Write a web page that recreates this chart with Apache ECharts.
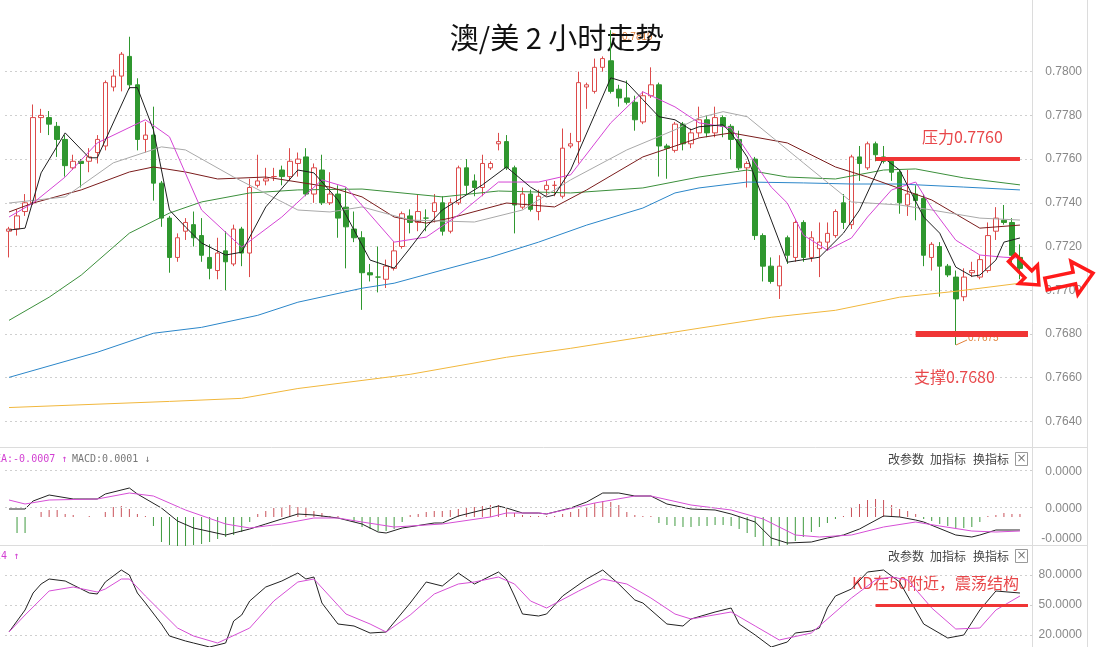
<!DOCTYPE html>
<html><head><meta charset="utf-8">
<script src="https://cdn.jsdelivr.net/npm/echarts@6/dist/echarts.min.js"></script>
<style>html,body{margin:0;padding:0;background:#fff}#c{width:1098px;height:647px}</style>
</head><body><div id="c"></div>
<script>
// ---- candles: [open, close, low, high] ----
const candles = [
[.7727,.7728,.7715,.7729],[.7728,.7734,.7725,.7737],[.7736,.7740,.7734,.7744],[.7740,.7779,.7739,.7785],[.7779,.7780,.7772,.7783],
[.7779,.7776,.7771,.7782],[.7775,.7769,.7761,.7777],[.7769,.7757,.7752,.7771],[.7756,.7759,.7755,.7762],[.7759,.7758,.7747,.7760],
[.7759,.7761,.7754,.7765],[.7763,.7769,.7758,.7771],[.7766,.7795,.7764,.7796],[.7793,.7798,.7791,.7801],[.7798,.7808,.7791,.7809],
[.7807,.7794,.7792,.7816],[.7794,.7769,.7764,.7797],[.7769,.7771,.7763,.7777],[.7771,.7749,.7741,.7784],[.7749,.7733,.7729,.7750],
[.7733,.7715,.7708,.7734],[.7715,.7724,.7713,.7726],[.7727,.7731,.7723,.7733],[.7730,.7724,.7720,.7736],[.7725,.7716,.7713,.7733],
[.7715,.7710,.7705,.7721],[.7709,.7717,.7705,.7724],[.7718,.7713,.7700,.7727],[.7712,.7728,.7711,.7730],[.7728,.7717,.7711,.7729],
[.7717,.7747,.7706,.7751],[.7748,.7750,.7747,.7762],[.7750,.7751,.7748,.7756],[.7752,.7752,.7750,.7756],[.7755,.7752,.7748,.7757],
[.7752,.7759,.7750,.7765],[.7758,.7760,.7752,.7763],[.7761,.7744,.7743,.7765],[.7744,.7756,.7740,.7758],[.7755,.7740,.7739,.7762],
[.7740,.7744,.7739,.7754],[.7744,.7733,.7724,.7748],[.7738,.7729,.7710,.7747],[.7728,.7724,.7722,.7736],[.7724,.7708,.7691,.7727],
[.7708,.7707,.7704,.7712],[.7706,.7706,.7699,.7720],[.7705,.7711,.7701,.7714],[.7710,.7718,.7709,.7722],[.7720,.7735,.7719,.7736],
[.7734,.7731,.7726,.7737],[.7731,.7736,.7727,.7744],[.7733,.7733,.7727,.7737],[.7736,.7740,.7731,.7744],[.7740,.7727,.7725,.7743],
[.7727,.7740,.7726,.7742],[.7740,.7756,.7739,.7757],[.7756,.7748,.7744,.7760],[.7750,.7747,.7743,.7753],[.7747,.7758,.7743,.7762],
[.7756,.7758,.7755,.7759],[.7767,.7768,.7764,.7772],[.7768,.7756,.7755,.7771],[.7756,.7739,.7726,.7757],[.7738,.7744,.7737,.7747],
[.7744,.7737,.7736,.7746],[.7736,.7743,.7732,.7746],[.7746,.7748,.7743,.7750],[.7748,.7748,.7743,.7750],[.7743,.7765,.7742,.7774],
[.7766,.7767,.7765,.7772],[.7768,.7795,.7758,.7800],[.7793,.7794,.7783,.7795],[.7791,.7802,.7790,.7806],[.7802,.7806,.7800,.7807],
[.7805,.7791,.7790,.7819],[.7792,.7788,.7784,.7794],[.7788,.7786,.7785,.7796],[.7786,.7778,.7773,.7789],[.7777,.7789,.7776,.7791],
[.7789,.7794,.7788,.7802],[.7794,.7766,.7752,.7795],[.7766,.7765,.7751,.7767],[.7764,.7776,.7763,.7777],[.7776,.7767,.7764,.7777],
[.7767,.7772,.7765,.7774],[.7772,.7778,.7770,.7784],[.7778,.7772,.7770,.7780],[.7772,.7779,.7770,.7784],[.7779,.7775,.7770,.7780],
[.7775,.7769,.7760,.7776],[.7769,.7756,.7755,.7773],[.7756,.7758,.7747,.7759],[.7760,.7725,.7723,.7761],[.7725,.7711,.7704,.7726],
[.7711,.7704,.7703,.7715],[.7702,.7711,.7696,.7716],[.7724,.7716,.7712,.7725],[.7715,.7731,.7713,.7732],[.7731,.7715,.7713,.7732],
[.7715,.7724,.7713,.7727],[.7719,.7722,.7706,.7731],[.7722,.7726,.7718,.7731],[.7725,.7736,.7724,.7737],[.7740,.7731,.7728,.7744],
[.7730,.7761,.7728,.7762],[.7761,.7758,.7750,.7766],[.7756,.7767,.7755,.7768],[.7767,.7762,.7759,.7768],[.7761,.7759,.7758,.7766],
[.7759,.7754,.7750,.7760],[.7754,.7740,.7735,.7755],[.7739,.7744,.7734,.7755],[.7744,.7741,.7732,.7748],[.7742,.7716,.7711,.7744],
[.7715,.7721,.7709,.7722],[.7720,.7711,.7697,.7722],[.7711,.7707,.7706,.7712],[.7706,.7696,.7675,.7709],[.7697,.7706,.7695,.7710],
[.7708,.7709,.7706,.7713],[.7706,.7714,.7705,.7716],[.7709,.7725,.7708,.7731],[.7727,.7733,.7723,.7738],[.7732,.7731,.7730,.7739],
[.7731,.7716,.7712,.7733],[.7715,.7710,.7705,.7721]
];
// ---- moving averages: [bar index, value] ----
const ma5 = [[0,.77275],[2,.77284],[4,.77537],[7,.77720],[10,.77606],[11,.77606],[15,.77927],[16,.77927],[18,.77734],[20,.77367],[22,.77289],[24,.77216],[27,.77161],[29,.77174],[32,.77381],[36,.77550],[38,.77537],[41,.77413],[45,.77138],[48,.77101],[50,.77193],[52,.77289],[54,.77367],[59,.77482],[62,.77564],[65,.77472],[67,.77427],[68,.77436],[70,.77550],[75,.77972],[77,.77950],[79,.77872],[81,.77794],[83,.77780],[85,.77734],[86,.77748],[89,.77757],[90,.77720],[92,.77610],[95,.77321],[97,.77128],[101,.77151],[104,.77261],[106,.77367],[109,.77606],[111,.77550],[114,.77335],[116,.77261],[118,.77106],[120,.77064],[121,.77069],[123,.77138],[124,.77220],[126,.77239]];
const ma10 = [[0,.77335],[3,.77399],[7,.77518],[11,.77674],[17,.77780],[20,.77702],[24,.77367],[29,.77197],[34,.77335],[39,.77505],[42,.77472],[48,.77220],[52,.77243],[56,.77344],[61,.77495],[66,.77495],[70,.77528],[75,.77766],[79,.77908],[83,.77839],[86,.77766],[90,.77743],[95,.77472],[97,.77399],[99,.77252],[102,.77183],[105,.77239],[107,.77335],[110,.77459],[113,.77495],[115,.77376],[118,.77229],[121,.77161],[124,.77151],[126,.77147]];
const ma20 = [[0,.77399],[7,.77427],[13,.77583],[19,.77656],[22,.77642],[28,.77518],[36,.77367],[40,.77358],[44,.77381],[50,.77321],[58,.77312],[64,.77367],[70,.77505],[77,.77642],[83,.77734],[86,.77789],[89,.77817],[92,.77794],[99,.77583],[105,.77404],[111,.77390],[115,.77367],[121,.77330],[126,.77321]];
const ma30 = [[0,.77358],[3,.77399],[9,.77459],[15,.77541],[18,.77564],[22,.77541],[26,.77509],[32,.77518],[40,.77472],[44,.77427],[48,.77335],[52,.77307],[55,.77330],[62,.77399],[68,.77381],[72,.77459],[79,.77610],[86,.77697],[90,.77720],[97,.77674],[103,.77564],[107,.77518],[115,.77413],[121,.77284],[126,.77298]];
const ma60 = [[0,.76862],[5,.76968],[9,.77069],[15,.77261],[20,.77353],[24,.77404],[30,.77445],[36,.77459],[44,.77463],[54,.77427],[61,.77454],[70,.77445],[79,.77468],[86,.77518],[92,.77550],[97,.77518],[103,.77509],[109,.77550],[113,.77555],[119,.77514],[126,.77482]];
const ma120 = [[0,.76601],[11,.76716],[18,.76803],[24,.76830],[31,.76885],[36,.76945],[44,.77009],[48,.77032],[54,.77092],[60,.77151],[66,.77220],[72,.77298],[79,.77376],[83,.77445],[86,.77468],[92,.77495],[99,.77491],[105,.77486],[111,.77486],[119,.77472],[126,.77459]];
const ma250 = [[0,.76463],[20,.76491],[29,.76505],[36,.76550],[44,.76587],[50,.76615],[62,.76693],[70,.76734],[86,.76826],[95,.76876],[103,.76908],[111,.76968],[118,.76995],[126,.77032]];
// ---- MACD (values in 0.000001) ----
const macdHist = [0,-16,-16,0,5,7,7,3,2,0,1,0,5,10,11,8,3,1,-9,-25,-28,-30,-30,-28,-27,-25,-22,-20,-18,-15,-5,3,6,9,10,12,10,9,6,4,1,1,0,-5,-10,-12,-14,-14,-12,-5,2,3,5,6,6,7,8,9,10,11,12,12,8,4,2,1,1,1,1,3,5,8,10,14,16,15,12,5,2,1,1,-6,-8,-9,-10,-10,-9,-9,-8,-8,-9,-12,-16,-20,-30,-32,-32,-28,-24,-20,-15,-10,-6,-2,1,9,13,17,18,17,12,8,6,3,-2,-4,-7,-9,-11,-11,-10,-5,1,2,4,3,3];
const macdDif = [[0,8],[2,8],[3,16],[5,22],[8,18],[11,18],[12,23],[15,29],[16,23],[19,9],[21,-4],[23,-11],[27,-18],[30,-12],[32,-7],[36,3],[38,2],[41,-1],[44,-7],[46,-15],[47,-16],[49,-11],[53,-6],[54,-6],[56,1],[58,5],[61,11],[62,9],[64,4],[66,4],[67,3],[70,9],[72,15],[74,24],[76,24],[78,21],[80,21],[82,13],[85,8],[88,7],[90,3],[93,-5],[95,-21],[97,-26],[100,-25],[102,-21],[104,-18],[106,-12],[109,1],[111,0],[113,-3],[114,-5],[118,-18],[120,-20],[121,-18],[123,-13],[126,-13]];
const macdDea = [[0,17],[2,13],[5,17],[11,18],[15,24],[18,21],[22,7],[27,-7],[30,-11],[34,-7],[38,-1],[41,-1],[44,-5],[48,-10],[54,-7],[60,0],[62,4],[66,4],[67,3],[73,14],[78,21],[80,21],[85,12],[90,7],[94,-2],[98,-18],[101,-20],[105,-18],[109,-10],[113,-5],[116,-9],[120,-14],[123,-15],[126,-14]];
// ---- KD ----
const kLine = [[0,23],[2,45],[3,62],[4,71],[5,76],[7,74],[8,70],[10,62],[11,61],[12,73],[14,85],[15,80],[16,62],[17,52],[19,31],[20,19],[22,14],[23,12],[25,8],[27,12],[28,34],[29,40],[30,54],[32,68],[34,74],[36,82],[37,76],[38,78],[39,52],[41,31],[43,29],[45,22],[47,23],[50,52],[52,73],[54,69],[56,82],[58,71],[61,83],[62,76],[63,59],[64,41],[66,39],[67,41],[69,59],[72,76],[74,85],[76,71],[78,55],[79,52],[82,31],[84,29],[85,36],[88,43],[90,47],[91,31],[93,20],[95,8],[97,13],[98,22],[100,24],[101,27],[102,47],[103,59],[105,66],[107,83],[109,85],[111,73],[114,31],[117,17],[119,20],[121,45],[123,64],[126,62]];
const dLine = [[0,23],[2,40],[5,64],[8,68],[11,63],[12,66],[14,76],[15,76],[17,59],[21,27],[23,19],[26,12],[30,27],[33,54],[36,73],[38,76],[42,41],[45,31],[47,23],[50,40],[53,61],[56,71],[58,73],[61,78],[63,71],[65,54],[67,47],[71,64],[74,76],[77,71],[80,57],[83,41],[85,36],[90,43],[93,29],[96,15],[100,22],[102,36],[105,57],[108,75],[110,78],[112,75],[115,47],[118,26],[121,27],[123,45],[126,59]];
const bars = Array.from({length: 128}, (_, i) => String(i + 1));
const priceTicks = {min: 0.7620, max: 0.7820, step: 0.0020};
const macdLabelValues = [45, 8, -22];
const kdTicks = {min: -10, max: 110, step: 30};

const RED = '#dc4a4a', GREEN = '#2f972f', ANN = '#f03535', ANNTXT = '#e8474a';
const lbl = {color: '#888', fontSize: 12, fontFamily: 'Liberation Sans', align: 'right', margin: 50};
const hx = {show: false};
const line = (name, data, color, xi, yi, extra) => Object.assign({
  name, type: 'line', data, xAxisIndex: xi, yAxisIndex: yi, symbol: 'none', connectNulls: true,
  lineStyle: {color, width: 1}, itemStyle: {color}, z: 3, silent: true, animation: false
}, extra || {});

const chart = echarts.init(document.getElementById('c'));
chart.setOption({
  animation: false,
  grid: [
    {left: 5, right: 66, top: 28, height: 437, outerBoundsMode: 'none', containLabel: false},
    {left: 5, right: 66, top: 447, height: 99, outerBoundsMode: 'none', containLabel: false},
    {left: 5, right: 66, top: 545, height: 120, outerBoundsMode: 'none', containLabel: false}
  ],
  xAxis: [0, 1, 2].map(g => ({type: 'category', gridIndex: g, data: bars, boundaryGap: true, show: false})),
  yAxis: [
    {gridIndex: 0, type: 'value', position: 'right', min: priceTicks.min, max: priceTicks.max, interval: priceTicks.step,
     axisLine: hx, axisTick: hx,
     axisLabel: Object.assign({showMinLabel: false, showMaxLabel: false, formatter: v => v.toFixed(4)}, lbl),
     splitLine: {show: true, showMinLine: false, showMaxLine: false, lineStyle: {type: [2, 3], color: '#cfcfcf'}}},
    {gridIndex: 1, type: 'value', position: 'right', min: -29, max: 70,
     axisLine: hx, axisTick: {show: false, customValues: macdLabelValues},
     axisLabel: Object.assign({customValues: macdLabelValues, formatter: v => (v / 1e6).toFixed(4)}, lbl),
     splitLine: hx},
    {gridIndex: 2, type: 'value', position: 'right', min: kdTicks.min, max: kdTicks.max, interval: kdTicks.step,
     axisLine: hx, axisTick: hx,
     axisLabel: Object.assign({showMinLabel: false, showMaxLabel: false, formatter: v => v.toFixed(4)}, lbl),
     splitLine: {show: true, showMinLine: false, showMaxLine: false, lineStyle: {type: [2, 3], color: '#cfcfcf'}}}
  ],
  series: [
    {type: 'candlestick', data: candles, xAxisIndex: 0, yAxisIndex: 0, barWidth: 5, silent: true,
     itemStyle: {color: '#ffffff', color0: GREEN, borderColor: RED, borderColor0: GREEN, borderWidth: 1},
     markLine: {symbol: ['none', 'none'], silent: true, label: {show: false}, animation: false,
       lineStyle: {color: ANN, width: 4, type: 'solid'},
       data: [
         [{coord: [108, 0.7760]}, {coord: [126, 0.7760]}],
         [{coord: [113, 0.7680], lineStyle: {color: ANN, width: 6, type: 'solid'}}, {coord: [127, 0.7680]}]
       ]}},
    line('MA250', ma250, '#f1b73c', 0, 0),
    line('MA120', ma120, '#2b86c9', 0, 0),
    line('MA60', ma60, '#3b8f3b', 0, 0),
    line('MA30', ma30, '#7a1c1c', 0, 0),
    line('MA20', ma20, '#a9a9a9', 0, 0),
    line('MA10', ma10, '#d544d5', 0, 0),
    line('MA5', ma5, '#1e1e1e', 0, 0),
    {type: 'bar', data: macdHist, xAxisIndex: 1, yAxisIndex: 1, barWidth: 1, silent: true,
     itemStyle: {color: p => p.value >= 0 ? '#c9525a' : '#3f9a3f'}},
    line('DIF', macdDif, '#222', 1, 1, {
      markLine: {symbol: ['none', 'none'], silent: true, label: {show: false}, animation: false,
        lineStyle: {type: [2, 3], color: '#cfcfcf', width: 1}, data: [{yAxis: 47}, {yAxis: 10}]}}),
    line('DEA', macdDea, '#d64fd6', 1, 1),
    line('K', kLine, '#222', 2, 2, {
      markLine: {symbol: ['none', 'none'], silent: true, label: {show: false}, animation: false,
        lineStyle: {color: ANN, width: 3, type: 'solid'},
        data: [[{coord: [108, 50]}, {coord: [127, 50]}]]}}),
    line('D', dLine, '#d64fd6', 2, 2)
  ],
  graphic: [
    {type: 'line', silent: true, shape: {x1: 0, y1: 447.5, x2: 1087, y2: 447.5}, style: {stroke: '#dcdcdc', lineWidth: 1}},
    {type: 'line', silent: true, shape: {x1: 0, y1: 545.5, x2: 1087, y2: 545.5}, style: {stroke: '#dcdcdc', lineWidth: 1}},
    {type: 'line', silent: true, shape: {x1: 1032.5, y1: 0, x2: 1032.5, y2: 647}, style: {stroke: '#dcdcdc', lineWidth: 1}},
    {type: 'line', silent: true, shape: {x1: 1087.5, y1: 0, x2: 1087.5, y2: 647}, style: {stroke: '#dcdcdc', lineWidth: 1}},
    // high / low markers
    {type: 'line', silent: true, shape: {x1: 612, y1: 33, x2: 621, y2: 36}, style: {stroke: '#e2813a', lineWidth: 1}},
    {type: 'text', silent: true, x: 622, y: 37, style: {text: '0.7819', fontSize: 10, fontFamily: 'Liberation Sans', fill: '#e2813a', textVerticalAlign: 'middle', verticalAlign: 'middle'}},
    {type: 'line', silent: true, shape: {x1: 956, y1: 345, x2: 967, y2: 340}, style: {stroke: '#e2813a', lineWidth: 1}},
    {type: 'text', silent: true, x: 968, y: 338, style: {text: '0.7675', fontSize: 10, fontFamily: 'Liberation Sans', fill: '#e2813a', textVerticalAlign: 'middle', verticalAlign: 'middle'}},
    // title
    {type: 'text', silent: true, x: 557, y: 38, style: {text: '澳/美 2 小时走势', fontSize: 29, fontFamily: '"Noto Sans CJK SC"', fill: '#111', textAlign: 'center', align: 'center', textVerticalAlign: 'middle', verticalAlign: 'middle'}},
    // annotations
    {type: 'text', silent: true, x: 922, y: 137, style: {text: '压力0.7760', fontSize: 16, fontFamily: '"Noto Sans CJK SC"', fill: ANNTXT, textVerticalAlign: 'middle', verticalAlign: 'middle'}},
    {type: 'text', silent: true, x: 914, y: 377, style: {text: '支撑0.7680', fontSize: 16, fontFamily: '"Noto Sans CJK SC"', fill: ANNTXT, textVerticalAlign: 'middle', verticalAlign: 'middle'}},
    {type: 'text', silent: true, x: 852, y: 583, style: {text: 'KD在50附近，震荡结构', fontSize: 16, fontFamily: '"Noto Sans CJK SC"', fill: ANNTXT, textVerticalAlign: 'middle', verticalAlign: 'middle'}},
    {type: 'polygon', silent: true, z: 100, shape: {points: [[1015.5,254.5],[1031.8,270.8],[1037.5,265.1],[1038.9,284.9],[1019.1,283.5],[1024.8,277.8],[1008.5,261.5]]}, style: {fill: 'none', stroke: '#ff1a1a', lineWidth: 3.5, lineJoin: 'miter'}},
    {type: 'polygon', silent: true, z: 100, shape: {points: [[1044.8,278.1],[1073.1,272.1],[1070.9,261.4],[1093,273.2],[1077.9,294.6],[1075.6,283.9],[1047.2,289.9]]}, style: {fill: 'none', stroke: '#ff1a1a', lineWidth: 3.5, lineJoin: 'miter'}},
    // panel headers
    {type: 'text', silent: true, x: -11, y: 459, style: {text: 'DEA:-0.0007 ↑', fontSize: 10, fontFamily: '"DejaVu Sans Mono"', fill: '#d23fd2', textVerticalAlign: 'middle', verticalAlign: 'middle'}},
    {type: 'text', silent: true, x: 72, y: 459, style: {text: 'MACD:0.0001 ↓', fontSize: 10, fontFamily: '"DejaVu Sans Mono"', fill: '#777', textVerticalAlign: 'middle', verticalAlign: 'middle'}},
    {type: 'text', silent: true, x: -35, y: 556, style: {text: 'J:67.24 ↑', fontSize: 10, fontFamily: '"DejaVu Sans Mono"', fill: '#d23fd2', textVerticalAlign: 'middle', verticalAlign: 'middle'}},
    ...[459, 556].flatMap(y => [
      {type: 'text', silent: true, x: 888, y, style: {text: '改参数', fontSize: 12, fontFamily: '"Noto Sans CJK SC"', fill: '#444', textVerticalAlign: 'middle', verticalAlign: 'middle'}},
      {type: 'text', silent: true, x: 930, y, style: {text: '加指标', fontSize: 12, fontFamily: '"Noto Sans CJK SC"', fill: '#444', textVerticalAlign: 'middle', verticalAlign: 'middle'}},
      {type: 'text', silent: true, x: 973, y, style: {text: '换指标', fontSize: 12, fontFamily: '"Noto Sans CJK SC"', fill: '#444', textVerticalAlign: 'middle', verticalAlign: 'middle'}},
      {type: 'rect', silent: true, shape: {x: 1015.5, y: y - 6.5, width: 12, height: 13}, style: {fill: '#fff', stroke: '#999', lineWidth: 1}},
      {type: 'text', silent: true, x: 1021.5, y, style: {text: '×', fontSize: 12, fontFamily: 'DejaVu Sans', fill: '#777', textAlign: 'center', align: 'center', textVerticalAlign: 'middle', verticalAlign: 'middle'}}
    ])
  ]
});
</script>
</body></html>
